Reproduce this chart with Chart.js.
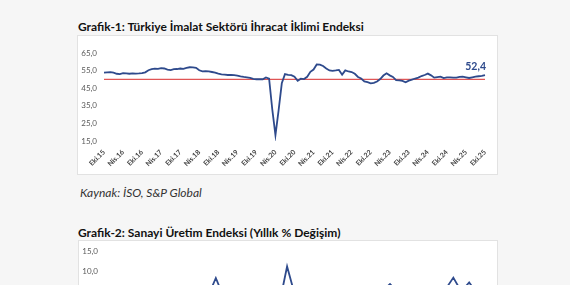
<!DOCTYPE html>
<html><head><meta charset="utf-8">
<script src="https://cdn.jsdelivr.net/npm/chart.js@4.4.1/dist/chart.umd.min.js"></script>
<style>
html,body{margin:0;padding:0;width:570px;height:285px;overflow:hidden;background:#f6f6f6;font-family:Lato,"Open Sans",sans-serif;}
.t{position:absolute;left:78px;font-weight:bold;font-size:12px;color:#111;white-space:nowrap;}
.box{position:absolute;background:#fff;border:1px solid #e2e2e2;box-sizing:border-box;}
.src{position:absolute;left:80px;top:185px;font-style:italic;font-size:12px;color:#333;}
canvas{position:absolute;}
</style></head><body>
<div class="t" style="top:19px">Grafik-1: Türkiye İmalat Sektörü İhracat İklimi Endeksi</div>
<div class="box" style="left:77px;top:35px;width:421px;height:140px"></div>
<div class="src">Kaynak: İSO, S&amp;P Global</div>
<div class="t" style="top:225px">Grafik-2: Sanayi Üretim Endeksi (Yıllık % Değişim)</div>
<div class="box" style="left:78px;top:240px;width:420px;height:140px"></div>
<div style="position:absolute;left:77px;top:35px;width:421px;height:139px"><canvas id="c1"></canvas></div>
<div style="position:absolute;left:78px;top:240px;width:420px;height:139px"><canvas id="c2"></canvas></div>
<script>
const months = ["Oca","Şub","Mar","Nis","May","Haz","Tem","Ağu","Eyl","Eki","Kas","Ara"];
// Grafik-1: monthly, Eki.15 .. Eki.25
const labels1 = [];
for (let y = 2015, m = 9; labels1.length < 121; m++) { if (m === 12) { m = 0; y++; } labels1.push(months[m] + "." + String(y).slice(2)); }
const exportIndex = [
53.9,54.0,54.1,53.8,53.2,53.0,53.5,53.4,53.2,53.4,53.3,53.4,
53.6,54.0,55.2,55.8,56.1,56.0,56.4,56.2,55.6,55.3,55.8,55.9,
56.2,56.0,56.5,56.9,56.8,56.6,55.2,54.6,54.7,54.5,54.2,53.9,
53.3,52.9,52.7,52.5,52.6,52.4,52.2,51.7,51.4,51.2,50.9,50.3,
50.1,50.2,50.1,51.1,50.4,33.0,18.3,32.5,47.8,53.0,52.6,52.4,
51.5,49.2,50.4,50.2,51.5,54.3,55.6,58.5,58.4,57.6,56.2,55.1,
54.9,55.1,55.4,52.7,55.1,54.5,54.2,53.2,51.4,50.5,48.9,48.4,
47.8,48.0,48.8,50.2,52.2,53.5,52.3,51.4,49.6,49.4,49.2,48.4,
49.3,49.9,50.5,51.0,51.9,52.5,53.3,52.3,51.0,51.3,51.6,50.7,
51.1,51.2,51.0,51.0,51.4,51.6,51.2,50.8,51.2,51.6,51.8,52.0,
52.4];
const threshold1 = labels1.map(() => 50);
const yTicks1 = [15, 25, 35, 45, 55, 65];

// Grafik-2: monthly, Eki.21 .. Eki.25 (only upper part visible)
const labels2 = [];
for (let y = 2021, m = 9; labels2.length < 49; m++) { if (m === 12) { m = 0; y++; } labels2.push(months[m] + "." + String(y).slice(2)); }
const ipChange = [
4.1,3.2,5.5,2.0,1.4,0.8,3.6,1.2,2.1,-0.4,1.5,0.6,
2.4,3.7,8.4,3.5,1.8,-1.2,0.5,2.6,-3.4,-0.8,1.6,11.3,
4.0,2.2,0.4,1.9,-1.6,0.9,2.7,1.1,3.4,2.0,4.2,5.0,
6.9,4.8,2.6,3.9,1.7,4.4,3.1,5.5,8.5,5.0,7.3,4.5,
3.0];
const yTicks2 = [-10, -5, 0, 5, 10, 15];

const navy = "#2e4a8c";
const tickFont = {family: "Lato, 'Open Sans', sans-serif", size: 8};
const fmt = v => v.toFixed(1).replace(".", ",");

const lastLabel = {
  id: "lastLabel",
  afterDatasetsDraw(chart) {
    const meta = chart.getDatasetMeta(0);
    const p = meta.data[meta.data.length - 1];
    const ctx = chart.ctx;
    ctx.save();
    ctx.fillStyle = navy;
    ctx.font = "bold 10.5px Lato, 'Open Sans', sans-serif";
    ctx.textAlign = "right";
    ctx.textBaseline = "bottom";
    ctx.fillText(fmt(exportIndex[exportIndex.length - 1]), p.x + 1, p.y - 3);
    ctx.restore();
  }
};

function makeChart(id, labels, datasets, yMin, yMax, pad, xHeight, plugins) {
  return new Chart(document.getElementById(id), {
    type: "line",
    data: {labels, datasets},
    options: {
      responsive: true, maintainAspectRatio: false, animation: false,
      layout: {padding: pad},
      plugins: {legend: {display: false}, tooltip: {enabled: false}},
      elements: {point: {radius: 0}, line: {tension: 0}},
      scales: {
        x: {
          offset: false,
          grid: {display: false, drawTicks: false}, border: {display: false},
          ticks: {autoSkip: false, minRotation: 45, maxRotation: 45, padding: 7,
            color: "#404040", font: {family: "Lato, 'Open Sans', sans-serif", size: 7, weight: "bold"},
            callback: (v, i) => (i % 6 === 0 ? labels[i] : null)},
          afterFit: s => { s.height = xHeight; }
        },
        y: {
          min: yMin, max: yMax,
          grid: {display: false, drawTicks: false}, border: {display: false},
          afterBuildTicks: s => { s.ticks = (id === "c1" ? yTicks1 : yTicks2).map(v => ({value: v})); },
          ticks: {color: "#595959", font: tickFont, padding: 7, callback: v => fmt(v)},
          afterFit: s => { s.width = 27; }
        }
      }
    },
    plugins
  });
}

makeChart("c1", labels1, [
  {data: exportIndex, borderColor: navy, borderWidth: 1.8},
  {data: threshold1, borderColor: "#e05555", borderWidth: 1.2}
], 15, 65, {left: 0, right: 13, top: 18, bottom: 0}, 33, [lastLabel]);

makeChart("c2", labels2, [
  {data: ipChange, borderColor: navy, borderWidth: 1.8}
], -10, 15, {left: 0, right: 13, top: 11, bottom: 0}, 28, []);
</script>
</body></html>
